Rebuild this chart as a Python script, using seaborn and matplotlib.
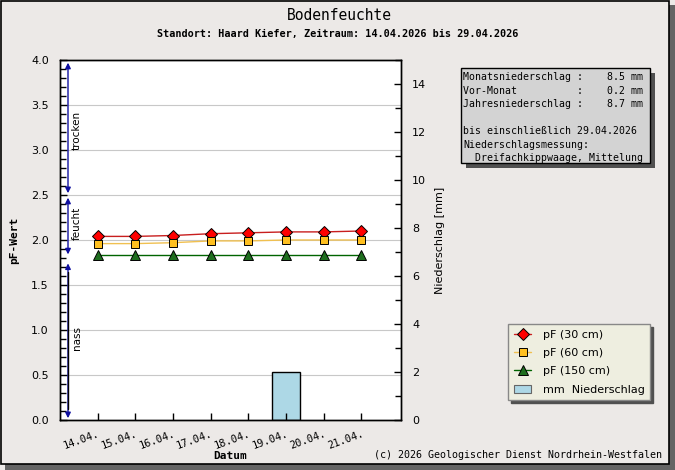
import numpy as np
import pandas as pd
import matplotlib
matplotlib.use("Agg")
import matplotlib.pyplot as plt
import matplotlib.transforms as mtransforms
from matplotlib.patches import Rectangle, Patch
from matplotlib.lines import Line2D
import seaborn as sns

# ---- data ----
dates = ["14.04.", "15.04.", "16.04.", "17.04.", "18.04.", "19.04.", "20.04.", "21.04."]
pf_30 = [2.04, 2.04, 2.05, 2.07, 2.08, 2.09, 2.09, 2.10]
pf_60 = [1.96, 1.96, 1.97, 1.99, 1.99, 2.00, 2.00, 2.00]
pf_150 = [1.83, 1.83, 1.83, 1.83, 1.83, 1.83, 1.83, 1.83]
precip = [0.0, 0.0, 0.0, 0.0, 0.0, 2.0, 0.0, 0.0]
info_lines = ["Monatsniederschlag :    8.5 mm",
              "Vor-Monat          :    0.2 mm",
              "Jahresniederschlag :    8.7 mm",
              "",
              "bis einschließlich 29.04.2026",
              "Niederschlagsmessung:",
              "  Dreifachkippwaage, Mittelung"]
zones = [("trocken", 3.97, 2.52, 3.22), ("feucht", 2.47, 1.84, 2.18), ("nass", 1.74, 0.02, 0.91)]

df = pd.DataFrame({"x": np.arange(len(dates)), "pf30": pf_30, "pf60": pf_60,
                   "pf150": pf_150, "mm": precip})

sns.set_style("white")
plt.rcParams["font.family"] = ["DejaVu Sans"]
plt.rcParams["text.color"] = "black"
plt.rcParams["axes.labelcolor"] = "black"
plt.rcParams["xtick.color"] = "black"
plt.rcParams["ytick.color"] = "black"
BG = "#ECE9E7"
MONO = "DejaVu Sans Mono"

W, H = 675, 470
fig = plt.figure(figsize=(6.75, 4.7), dpi=100, facecolor=BG)

# frame + shadow
fig.patches.append(Rectangle((5 / W, 0), 1 - 5 / W, 1 - 5 / H, transform=fig.transFigure,
                             facecolor="#646464", edgecolor="none", zorder=-20))
fig.patches.append(Rectangle((0.5 / W, 6 / H), 668.5 / W, 1 - 6.5 / H, transform=fig.transFigure,
                             facecolor=BG, edgecolor="black", lw=1.2, zorder=-19))

ax = fig.add_axes([60 / W, 1 - 420 / H, 341 / W, 360 / H])
ax2 = ax.twinx()
ax2.patch.set_visible(True)
ax2.patch.set_facecolor("white")
ax.patch.set_visible(False)
ax2.set_zorder(2)
ax.set_zorder(3)

# precipitation bars on right axis
bars = df[df["mm"] > 0]
ax2.bar(bars["x"], bars["mm"], width=0.74, color="#ADD8E6", edgecolor="black", linewidth=1, zorder=2)
ax2.set_ylim(0, 15)
ax2.set_yticks(np.arange(0, 15, 2))
ax2.set_yticks(np.arange(0, 16, 1), minor=True)
ax2.tick_params(axis="y", which="both", right=True, left=False)
ax2.tick_params(axis="y", which="major", direction="in", length=5, width=1, labelsize=8, pad=8)
ax2.tick_params(axis="y", which="minor", direction="in", length=4, width=1)
ax2.set_ylabel("Niederschlag [mm]", fontsize=8, labelpad=6)

sns.lineplot(data=df, x="x", y="pf30", ax=ax, color="#C81E1E", lw=1, marker="D",
             markersize=6.5, markerfacecolor="#FF0000", markeredgecolor="black",
             markeredgewidth=0.7, zorder=5)
sns.lineplot(data=df, x="x", y="pf60", ax=ax, color="#F0C050", lw=1, marker="s",
             markersize=6, markerfacecolor="#FFC020", markeredgecolor="black",
             markeredgewidth=0.7, zorder=5)
sns.lineplot(data=df, x="x", y="pf150", ax=ax, color="#006400", lw=1, marker="^",
             markersize=7, markerfacecolor="#1E6E1E", markeredgecolor="black",
             markeredgewidth=0.7, zorder=5)

ax.set_ylim(0, 4)
ax.set_xlim(-1, 8.05)
ax.set_yticks(np.arange(0, 4.01, 0.5))
ax.set_yticks(np.arange(0, 4.01, 0.1), minor=True)
ax.yaxis.set_major_formatter(matplotlib.ticker.FormatStrFormatter("%.1f"))
ax.tick_params(axis="y", which="both", left=True, right=False)
ax.tick_params(axis="y", which="major", direction="in", length=5, width=1, labelsize=8, pad=8)
ax.tick_params(axis="y", which="minor", direction="in", length=4, width=1)
# horizontal grid at the pF major ticks, drawn under the bars
for yv in np.arange(0.5, 4.0, 0.5):
    ax2.axhline(yv * 15 / 4, color="#C8C8C8", lw=0.8, zorder=0)
ax.set_xticks(df["x"])
ax.set_xticklabels(dates, rotation=20, ha="right", rotation_mode="anchor",
                   family=MONO, fontsize=7.5)
ax.tick_params(axis="x", bottom=True, direction="in", length=5, width=1, pad=6)
ax.set_xlabel("Datum", family=MONO, fontweight="bold", fontsize=8)
ax.xaxis.set_label_coords(0.5, -31 / 360)
ax.set_ylabel("pF-Wert", family=MONO, fontweight="bold", fontsize=8)
ax.yaxis.set_label_coords(-41 / 341, 0.5)
for s in list(ax.spines.values()) + list(ax2.spines.values()):
    s.set_color("black"); s.set_linewidth(1)

# zone arrows
trans = mtransforms.blended_transform_factory(ax.transAxes, ax.transData)
xf = 8 / 341
for name, top, bot, ytxt in zones:
    ax.annotate("", xy=(xf, top), xytext=(xf, bot), xycoords=trans, textcoords=trans,
                arrowprops=dict(arrowstyle="<|-|>", color="#1010A0", lw=1,
                                mutation_scale=8, shrinkA=0, shrinkB=0), zorder=6)
    if name == "nass":
        ax.plot([xf, xf], [top - 0.1, bot + 0.1], transform=trans, color="black", lw=1, zorder=7)
    ax.text(xf + 9 / 341, ytxt, name, transform=trans, rotation=90, va="center",
            ha="center", fontsize=7.5, zorder=7)

# titles
fig.text(339 / W, 1 - 15 / H, "Bodenfeuchte", family=MONO, fontsize=10.5, ha="center", va="center")
fig.text(338 / W, 1 - 34 / H, "Standort: Haard Kiefer, Zeitraum: 14.04.2026 bis 29.04.2026",
         family=MONO, fontweight="bold", fontsize=7.3, ha="center", va="center")
fig.text(662 / W, 1 - 455 / H, "(c) 2026 Geologischer Dienst Nordrhein-Westfalen",
         family=MONO, fontsize=7.2, ha="right", va="center")

# info box
fig.patches.append(Rectangle((466 / W, 1 - 168 / H), 189 / W, 95 / H, transform=fig.transFigure,
                             facecolor="#505050", edgecolor="none", zorder=1))
fig.patches.append(Rectangle((461 / W, 1 - 163 / H), 189 / W, 95 / H, transform=fig.transFigure,
                             facecolor="#D3D3D3", edgecolor="black", lw=1, zorder=2))
ys = [77, 91, 104, 118, 131, 145, 158]
for line, yy in zip(info_lines, ys):
    if line:
        fig.text(463 / W, 1 - yy / H, line, family=MONO, fontsize=7.1, ha="left", va="center", zorder=3)

# legend
handles = [
    Line2D([], [], color="#C81E1E", lw=1, marker="D", markersize=6.5, markerfacecolor="#FF0000",
           markeredgecolor="black", markeredgewidth=0.7),
    Line2D([], [], color="#F0C050", lw=1, marker="s", markersize=6, markerfacecolor="#FFC020",
           markeredgecolor="black", markeredgewidth=0.7),
    Line2D([], [], color="#006400", lw=1, marker="^", markersize=7, markerfacecolor="#1E6E1E",
           markeredgecolor="black", markeredgewidth=0.7),
    Patch(facecolor="#ADD8E6", edgecolor="#666666", lw=0.8),
]
labels = ["pF (30 cm)", "pF (60 cm)", "pF (150 cm)", "mm  Niederschlag"]
leg = fig.legend(handles, labels, loc="upper right", bbox_to_anchor=(650 / W, 1 - 324 / H),
                 fontsize=8, frameon=True, fancybox=False,
                 shadow={"color": "#505050", "alpha": 1}, facecolor="#EEEEE0",
                 edgecolor="#888888", handlelength=1.6, handletextpad=1.0,
                 borderpad=0.5, labelspacing=0.75, borderaxespad=0)
leg.get_frame().set_linewidth(1)

fig.savefig("out.png", dpi=100, facecolor=BG)
